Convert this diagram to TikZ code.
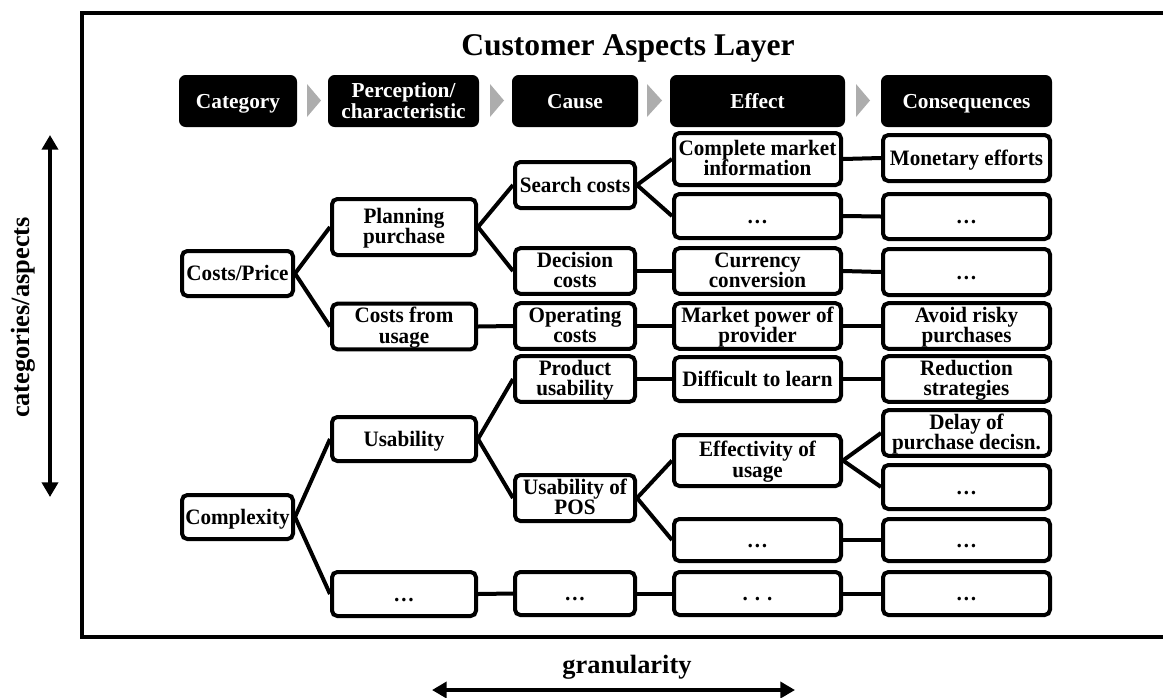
\documentclass[tikz,border=0pt]{standalone}
\usepackage{fontspec}
\setmainfont{Liberation Serif}
\newfontfamily\condfont{Liberation Serif}[FakeStretch=0.96]
\usetikzlibrary{arrows.meta}
\newcommand\bodytopstrut{\rule[-4.5pt]{0pt}{20pt}}
\newcommand\bodybotstrut{\rule[-4.5pt]{0pt}{0pt}}
\newcommand\headtopstrut{\rule[-4pt]{0pt}{18.5pt}}
\newcommand\headbotstrut{\rule[-4pt]{0pt}{0pt}}
\newcommand\twoline[2]{\vbox{\lineskiplimit=-\maxdimen\halign{\hfil##\hfil\cr\rule{0pt}{14.3pt}#1\cr#2\rule[-4.5pt]{0pt}{0pt}\cr}}}
\newcommand\headtwo[2]{\vbox{\lineskiplimit=-\maxdimen\halign{\hfil##\hfil\cr\rule{0pt}{13.8pt}#1\cr#2\rule[-4pt]{0pt}{0pt}\cr}}}
\begin{document}
\begin{tikzpicture}[x=0.75pt,y=-0.75pt,
  box/.style={draw, line width=3pt, rounded corners=4pt, fill=white, align=center, inner sep=0pt,
    font=\condfont\bfseries\fontsize{16.5}{15.4}\selectfont,
    execute at begin node=\bodytopstrut, execute at end node=\bodybotstrut},
  hdr/.style={fill=black, text=white, rounded corners=5pt, align=center, inner sep=0pt,
    minimum height=39pt, font=\bfseries\fontsize{16}{15.75}\selectfont,
    execute at begin node=\headtopstrut, execute at end node=\headbotstrut},
  boxw/.style={minimum width={(#1-4)*0.75pt}},
  boxh/.style={minimum height={(#1-4)*0.75pt}},
  hw/.style={minimum width={#1*0.75pt}},
  link/.style={line width=3pt},
  chev/.style={fill=black!32, draw=none},
  cA/.style={box, boxw=115},
  cB/.style={box, boxw=148},
  cC/.style={box, boxw=124},
  cD/.style={box, boxw=171},
  cE/.style={box, boxw=171},
  dblarrow/.style={line width=3pt, {Triangle[width=12pt,length=11pt]}-{Triangle[width=12pt,length=11pt]}},
  axislabel/.style={font=\bfseries\fontsize{19.8}{24}\selectfont}
]
\useasboundingbox (0,0) rectangle (1163,697);

% frame
\draw[line width=3pt] (1163,13) -- (82,13) -- (82,637) -- (1163,637);

% title
\node[anchor=base, font=\bfseries\fontsize{23.7}{28}\selectfont] (title) at (628,55) {Customer Aspects Layer};

% header row
\node[hdr, hw=118] (h1) at (238,101) {Category};
\node[hdr, hw=151] (h2) at (403.5,101) {\headtwo{Perception/}{characteristic}};
\node[hdr, hw=126] (h3) at (575,101) {Cause};
\node[hdr, hw=175] (h4) at (757.5,101) {Effect};
\node[hdr, hw=171] (h5) at (966.5,101) {Consequences};
\fill[chev] (307,84) -- (321,100.5) -- (307,117) -- cycle;
\fill[chev] (490,84) -- (504,100.5) -- (490,117) -- cycle;
\fill[chev] (647,84) -- (662,100.5) -- (647,117) -- cycle;
\fill[chev] (856,84) -- (870,100.5) -- (856,117) -- cycle;

% column 1
\node[cA, boxh=49] (cp) at (237.5,273.5) {Costs/Price};
\node[cA, boxh=48] (cx) at (237.5,517) {Complexity};

% column 2
\node[cB, boxh=60] (pp) at (404,227) {\twoline{Planning}{purchase}};
\node[cB, boxh=49] (cu) at (404,326.5) {\twoline{Costs from}{usage}};
\node[cB, boxh=48] (us) at (404,439) {Usability};
\node[cB, boxh=48] (d2) at (404,594) {…};

% column 3
\node[cC, boxh=50] (sc) at (575,185) {Search costs};
\node[cC, boxh=48] (dc) at (575,271) {\twoline{Decision}{costs}};
\node[cC, boxh=48] (oc) at (575,326) {\twoline{Operating}{costs}};
\node[cC, boxh=48] (pu) at (575,379) {\twoline{Product}{usability}};
\node[cC, boxh=50] (up) at (575,498) {\twoline{Usability of}{POS}};
\node[cC, boxh=47] (d3) at (575,593.5) {…};

% column 4
\node[cD, boxh=56] (cm) at (757.5,159) {\twoline{Complete market}{information}};
\node[cD, boxh=48] (e1) at (757.5,216) {…};
\node[cD, boxh=48] (cc) at (757.5,271) {\twoline{Currency}{conversion}};
\node[cD, boxh=48] (mp) at (757.5,326) {\twoline{Market power of}{provider}};
\node[cD, boxh=48] (dl) at (757.5,379) {Difficult to learn};
\node[cD, boxh=55] (eu) at (757.5,460.5) {\twoline{Effectivity of}{usage}};
\node[cD, boxh=46] (e2) at (757.5,540) {…};
\node[cD, boxh=47] (e3) at (757.5,593.5) {. . .};

% column 5
\node[cE, boxh=50] (me) at (966.5,158) {Monetary efforts};
\node[cE, boxh=49] (k1) at (966.5,216.5) {…};
\node[cE, boxh=50] (k2) at (966.5,272) {…};
\node[cE, boxh=48] (ar) at (966.5,326) {\twoline{Avoid risky}{purchases}};
\node[cE, boxh=48] (rs) at (966.5,379) {\twoline{Reduction}{strategies}};
\node[cE, boxh=48] (dp) at (966.5,433) {\twoline{Delay of}{purchase decisn.}};
\node[cE, boxh=48] (k3) at (966.5,487) {…};
\node[cE, boxh=46] (k4) at (966.5,540) {…};
\node[cE, boxh=47] (k5) at (966.5,593.5) {…};

% connectors
\draw[link] (cp.east) -- (pp.west);
\draw[link] (cp.east) -- (cu.west);
\draw[link] (pp.east) -- (sc.west);
\draw[link] (pp.east) -- (dc.west);
\draw[link] (cu.east) -- (oc.west);
\draw[link] (sc.east) -- (cm.west);
\draw[link] (sc.east) -- (e1.west);
\draw[link] (dc.east) -- (cc.west);
\draw[link] (oc.east) -- (mp.west);
\draw[link] (cm.east) -- (me.west);
\draw[link] (e1.east) -- (k1.west);
\draw[link] (cc.east) -- (k2.west);
\draw[link] (mp.east) -- (ar.west);
\draw[link] (cx.east) -- (us.west);
\draw[link] (cx.east) -- (d2.west);
\draw[link] (us.east) -- (pu.west);
\draw[link] (us.east) -- (up.west);
\draw[link] (pu.east) -- (dl.west);
\draw[link] (dl.east) -- (rs.west);
\draw[link] (up.east) -- (eu.west);
\draw[link] (up.east) -- (e2.west);
\draw[link] (eu.east) -- (dp.west);
\draw[link] (eu.east) -- (k3.west);
\draw[link] (e2.east) -- (k4.west);
\draw[link] (d2.east) -- (d3.west);
\draw[link] (d3.east) -- (e3.west);
\draw[link] (e3.east) -- (k5.west);

% axes
\coordinate (la1) at (50,135);
\coordinate (la2) at (50,497);
\draw[dblarrow] (la1) -- (la2);
\node[axislabel, rotate=90] (lab1) at (23,317.5) {categories/aspects};

\coordinate (ba1) at (432,690);
\coordinate (ba2) at (795,690);
\draw[dblarrow] (ba1) -- (ba2);
\node[axislabel, anchor=base] (lab2) at (627,673) {granularity};
\end{tikzpicture}
\end{document}
